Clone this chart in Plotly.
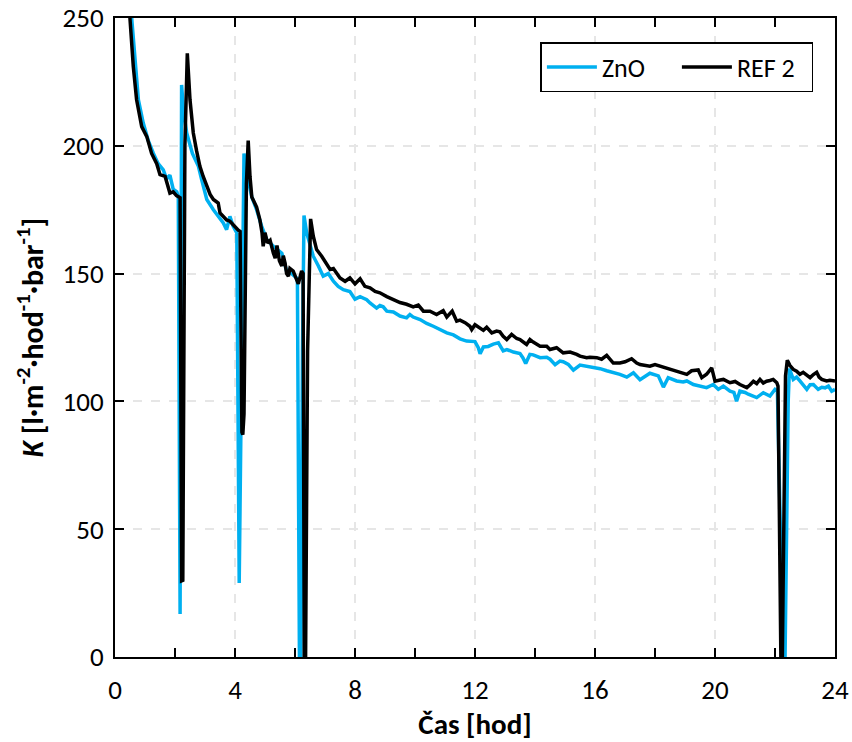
import plotly.graph_objects as go

# ZnO membrane – permeability over time
t_zno = [0.5, 0.56, 0.67, 0.78, 0.94, 1.11, 1.28, 1.44, 1.61, 1.72, 1.83, 1.94, 2.06, 2.11,
         2.17, 2.2, 2.22, 2.28, 2.39, 2.58, 2.78, 2.89, 3.06, 3.28, 3.44, 3.61, 3.72, 3.83, 3.94, 4.06,
         4.14, 4.22, 4.3, 4.39, 4.56, 4.72, 4.89, 5.06, 5.28, 5.56, 5.72, 5.89, 6.0, 6.08,
         6.15, 6.19, 6.25, 6.3, 6.39, 6.5, 6.61, 6.78, 6.94, 7.11, 7.28, 7.44, 7.61, 7.83,
         8.0, 8.17, 8.28, 8.39, 8.5, 8.72, 8.83, 8.94, 9.06, 9.28, 9.5, 9.72, 9.83, 9.94,
         10.17, 10.39, 10.61, 10.83, 11.06, 11.28, 11.5, 11.72, 12.0, 12.11, 12.17, 12.28,
         12.44, 12.61, 12.78, 12.94, 13.06, 13.28, 13.5, 13.6, 13.69, 13.83, 13.94, 14.17,
         14.39, 14.5, 14.67, 14.83, 14.94, 15.11, 15.28, 15.5, 15.72, 15.83, 16.17, 16.39,
         16.61, 16.83, 17.06, 17.28, 17.5, 17.67, 17.83, 18.11, 18.28, 18.44, 18.61, 18.72,
         18.94, 19.06, 19.28, 19.5, 19.72, 19.94, 20.11, 20.28, 20.5, 20.63, 20.72, 20.83,
         21.0, 21.11, 21.39, 21.61, 21.83, 22.0, 22.08, 22.28, 22.33, 22.44, 22.48, 22.61,
         22.72, 22.83, 22.94, 23.06, 23.17, 23.28, 23.44, 23.56, 23.67, 23.78, 23.89, 24.0]
k_zno = [258, 249.6, 231, 218, 209, 202, 197, 193, 190.6, 187, 188.5, 183, 182, 180,
         16.8, 120, 223.8, 214, 205, 197, 192, 186.7, 179, 175, 172.4, 169.8, 167.2, 172.4, 168.5, 165.9,
         29, 120, 197, 189.3, 180, 175, 168.5, 163.3, 160.7, 158, 151, 150, 149, 148,
         -5, -5, 120, 172.7, 165.9, 160.7, 156.8, 153, 149, 150, 147, 145, 143.7, 143,
         140, 141, 140.5, 139.8, 138.5, 136.5, 137.5, 137, 135.3, 135, 133.4, 132.7, 134, 133,
         132, 130.5, 129.4, 128, 126.8, 126, 124.5, 123.6, 123.4, 121, 118.6, 121.3,
         121.5, 122.4, 122.9, 119.8, 120.3, 119.3, 118.7, 117, 114.8, 118.4, 118.2, 117.1,
         117.3, 116.5, 114.4, 115.8, 115.5, 114.5, 112.2, 114.2, 113.8, 113.5, 112.8, 112,
         111.4, 110.6, 109.5, 111.2, 108.5, 110, 111, 110, 105.6, 109.3, 108.5, 108,
         107.6, 108, 106.6, 106, 105.4, 106.6, 104.7, 106, 104, 103.5, 100.1, 104,
         103.5, 102.8, 101.5, 103.4, 102.1, 104.7, 104, -5, -5, 100, 112.8, 108.6,
         109.5, 108, 106.5, 104.7, 106.5, 106.6, 104.7, 105.5, 105.3, 106, 104, 104.7]

# REF 2 membrane – permeability over time
t_ref = [0.45, 0.5, 0.61, 0.72, 0.89, 1.06, 1.22, 1.39, 1.5, 1.67, 1.83, 1.94, 2.05, 2.17,
         2.22, 2.26, 2.33, 2.41, 2.5, 2.61, 2.72, 2.83, 2.94, 3.06, 3.17, 3.28, 3.39, 3.44,
         3.5, 3.61, 3.72, 3.83, 3.94, 4.05, 4.11, 4.17, 4.23, 4.26, 4.3, 4.38, 4.44, 4.5,
         4.56, 4.64, 4.72, 4.83, 4.9, 4.94, 5.0, 5.08, 5.17, 5.28, 5.34, 5.4, 5.48, 5.56,
         5.61, 5.67, 5.72, 5.78, 5.83, 5.94, 6.0, 6.11, 6.22, 6.27, 6.31, 6.35, 6.42, 6.52,
         6.61, 6.72, 6.89, 7.06, 7.17, 7.28, 7.39, 7.5, 7.67, 7.83, 8.0, 8.17, 8.33, 8.5,
         8.67, 8.83, 9.06, 9.28, 9.5, 9.72, 9.94, 10.11, 10.28, 10.5, 10.72, 10.94, 11.06,
         11.24, 11.39, 11.5, 11.67, 11.83, 11.89, 12.0, 12.17, 12.28, 12.39, 12.56, 12.72,
         12.83, 12.94, 13.06, 13.22, 13.39, 13.5, 13.72, 13.83, 13.94, 14.17, 14.39, 14.5,
         14.72, 14.94, 15.06, 15.17, 15.39, 15.5, 15.72, 15.83, 16.06, 16.22, 16.39, 16.61,
         16.83, 17.0, 17.22, 17.39, 17.5, 17.67, 17.83, 18.0, 18.17, 18.33, 18.5, 18.61,
         18.83, 19.06, 19.22, 19.39, 19.44, 19.56, 19.72, 19.89, 20.0, 20.17, 20.28, 20.5,
         20.67, 20.83, 21.06, 21.17, 21.28, 21.39, 21.5, 21.61, 21.72, 21.83, 21.94, 22.06,
         22.1, 22.2, 22.24, 22.35, 22.41, 22.5, 22.61, 22.72, 22.83, 22.94, 23.06, 23.17,
         23.28, 23.39, 23.47, 23.56, 23.72, 23.83, 24.0]
k_ref = [262, 249.6, 231, 218, 207.5, 203.6, 197, 193, 188.7, 188, 181.5, 182, 180.5, 179.7,
         29.8, 30, 200, 236.2, 218, 205, 198, 192, 188, 184, 181, 179, 178, 177.6,
         173.7, 172.5, 171, 170.5, 169, 168, 167, 166.5, 88, 87, 95, 185, 202, 188,
         180, 178, 176, 171, 166, 160.7, 166, 162, 163, 158, 156, 161, 155, 153,
         157, 154, 150, 149, 152, 151, 149, 146, 151, 150, -5, -5, 120, 171.4,
         164.6, 159.4, 156.8, 154, 151.6, 152, 150, 148.3, 147, 148.3, 146, 148, 145, 144.4,
         143, 142.5, 141, 139.8, 138.7, 138, 137, 137.7, 135.3, 135.3, 134, 135.5, 133,
         135.3, 131.4, 131.8, 130.8, 129.4, 128.1, 130, 128.8, 127.8, 129, 126.8, 127.5,
         127.2, 125.5, 124.2, 126.2, 124.6, 124.2, 122.3, 124.2, 123.2, 121.6, 121.6, 120.3,
         121, 119, 119, 119.3, 118.4, 117.7, 117.1, 117.3, 117.1, 116.5, 118, 115,
         115, 115.5, 116.7, 115, 114.4, 114.2, 113.8, 114.4, 113.8, 113, 112.5, 111.9,
         111.2, 110.6, 112, 112.5, 112.3, 109.3, 110.6, 113.1, 107.9, 108.4, 108.6, 107.3,
         107.8, 106.6, 105.4, 106.5, 107.9, 107, 108.6, 107.2, 107.9, 108.2, 108.6, 107.3,
         106, -5, -5, 110, 116.1, 114, 112.5, 111.8, 110.6, 111.4, 110.5, 109.3,
         110.5, 111.4, 109.5, 108.6, 108, 108.3, 108]

x_tickvals = [0, 4, 8, 12, 16, 20, 24]
y_tickvals = [0, 50, 100, 150, 200, 250]

FONT = "Carlito, Calibri, Open Sans, sans-serif"

fig = go.Figure()
fig.add_trace(go.Scatter(x=t_zno, y=k_zno, mode="lines", name="ZnO",
                         line=dict(color="#00B0F0", width=3.5)))
fig.add_trace(go.Scatter(x=t_ref, y=k_ref, mode="lines", name="REF 2",
                         line=dict(color="#000000", width=3.5)))

axis_common = dict(
    showline=True, linecolor="black", linewidth=2, mirror="allticks",
    ticks="inside", ticklen=9, tickwidth=2, tickcolor="black",
    showgrid=True, gridcolor="#e6e6e6", griddash="dash", gridwidth=1.5,
    zeroline=False, automargin=False,
    tickfont=dict(family=FONT, size=27, color="black"),
)

fig.update_layout(
    width=852, height=742,
    margin=dict(l=115, r=17, t=18, b=85),
    paper_bgcolor="white", plot_bgcolor="white",
    font=dict(family=FONT, color="black"),
    showlegend=True,
    legend=dict(
        orientation="h", x=0.97, xanchor="right", y=0.9624, yanchor="top",
        bordercolor="black", borderwidth=1.5, bgcolor="white",
        font=dict(family=FONT, size=26, color="black"),
        itemwidth=50, entrywidth=70, traceorder="normal",
    ),
    xaxis=dict(
        **axis_common, range=[0, 24], tickvals=x_tickvals,
        minor=dict(dtick=2, ticks="inside", ticklen=9, tickwidth=2, tickcolor="black", showgrid=False),
        ticklabelstandoff=8,
        title=dict(text="<b>Čas [hod]</b>", font=dict(family=FONT, size=29), standoff=4),
    ),
    yaxis=dict(
        **axis_common, range=[0, 250], tickvals=y_tickvals,
        ticklabelstandoff=4,
        title=dict(text="<b><i>K</i> [l·m<sup>-2</sup>·hod<sup>-1</sup>·bar<sup>-1</sup>]</b>",
                   font=dict(family=FONT, size=30), standoff=10),
    ),
)

fig.write_html("out.html")
